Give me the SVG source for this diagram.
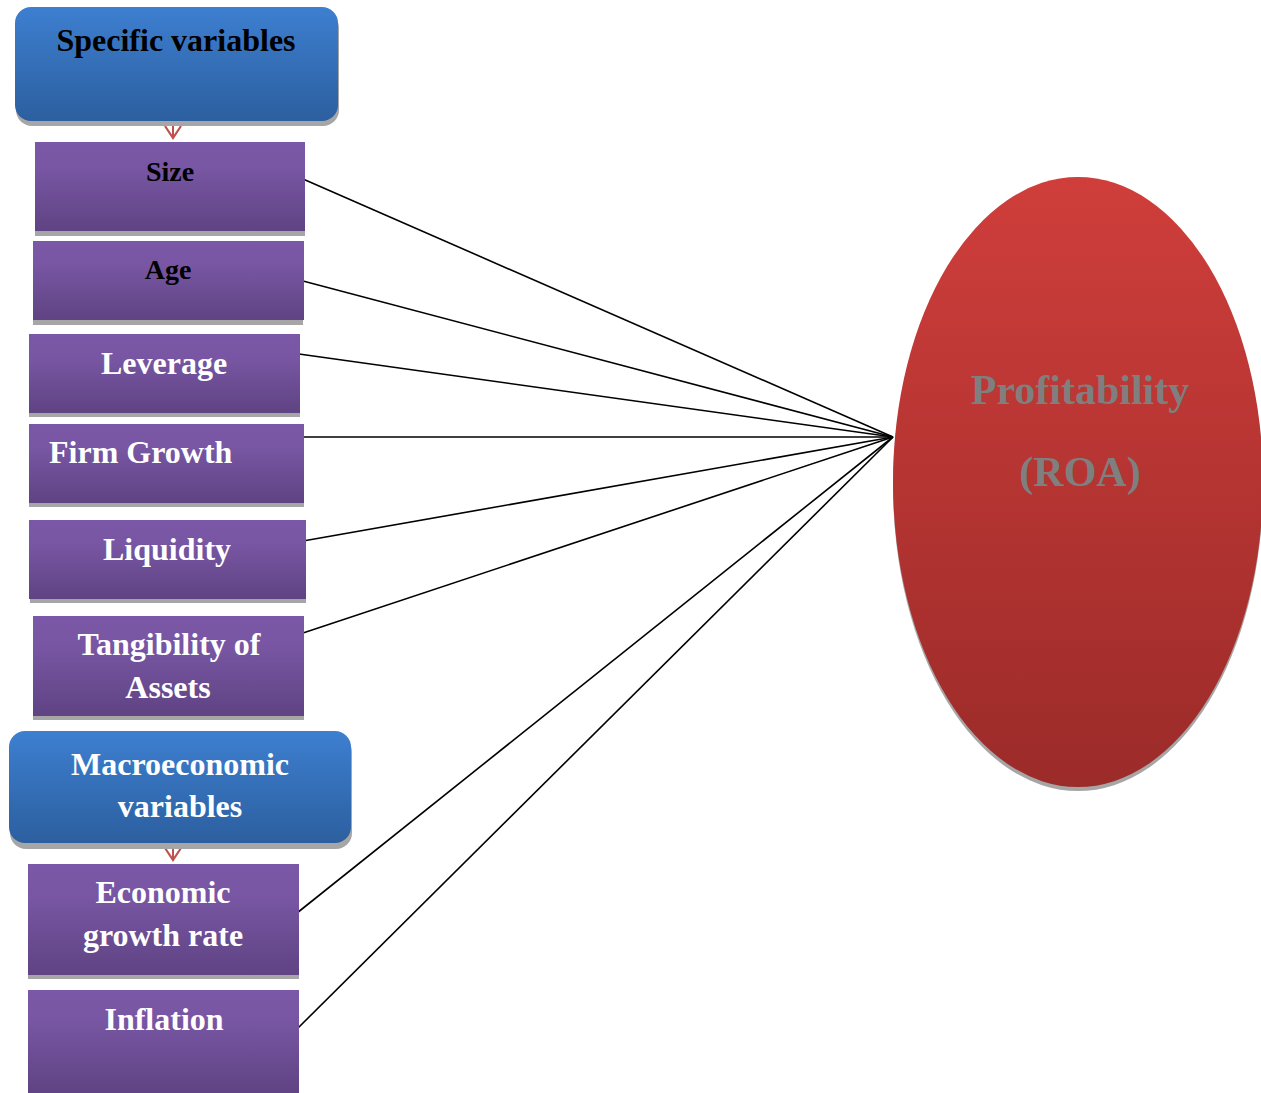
<svg xmlns="http://www.w3.org/2000/svg" width="1261" height="1093" viewBox="0 0 1261 1093">
<defs>
<linearGradient id="gBlue" x1="0" y1="0" x2="0" y2="1">
<stop offset="0" stop-color="#3d7fd0"/><stop offset="1" stop-color="#2c5f9f"/>
</linearGradient>
<linearGradient id="gPurple" x1="0" y1="0" x2="0" y2="1">
<stop offset="0" stop-color="#7b58a7"/><stop offset="0.3" stop-color="#7856a3"/><stop offset="1" stop-color="#5f4383"/>
</linearGradient>
<linearGradient id="gRed" x1="0" y1="0" x2="0" y2="1">
<stop offset="0" stop-color="#cf3e3b"/><stop offset="1" stop-color="#9b2b29"/>
</linearGradient>
<marker id="chev" viewBox="0 0 16 20" refX="14" refY="10" markerWidth="16" markerHeight="20" markerUnits="userSpaceOnUse" orient="auto">
<path d="M2,2 L14,10 L2,18" fill="none" stroke="#c0504d" stroke-width="2.2"/>
</marker>
<style>
.shadow{fill:#a6a6a6}
.blue{fill:url(#gBlue)}
.purple{fill:url(#gPurple)}
.t{font-family:"Liberation Serif","Times New Roman",serif;font-weight:bold;text-anchor:middle}
.w{fill:#ffffff;font-size:32px}
.k{fill:#000000}
.conn{stroke:#000;stroke-width:1.6;fill:none}
.red{stroke:#c0504d;stroke-width:2;fill:none}
</style>
</defs>

<g id="connectors">
<line class="conn" x1="303" y1="179" x2="893" y2="437"/>
<line class="conn" x1="303" y1="281" x2="893" y2="437"/>
<line class="conn" x1="299" y1="354" x2="893" y2="437"/>
<line class="conn" x1="299" y1="437" x2="893" y2="437"/>
<line class="conn" x1="303" y1="541" x2="893" y2="437"/>
<line class="conn" x1="303" y1="633" x2="893" y2="437"/>
<line class="conn" x1="297" y1="913" x2="893" y2="437"/>
<line class="conn" x1="297" y1="1029" x2="893" y2="437"/>
<line class="red" x1="173" y1="121" x2="173" y2="138" marker-end="url(#chev)"/>
<line class="red" x1="173" y1="844" x2="173" y2="860" marker-end="url(#chev)"/>
</g>

<g id="specific">
<rect class="shadow" x="16" y="12" width="323" height="114" rx="16"/>
<rect class="blue" x="15" y="7" width="323" height="114" rx="16"/>
<text class="t k" x="176" y="51" font-size="32">Specific variables</text>
</g>

<g id="size">
<rect class="shadow" x="35" y="146" width="270" height="90"/>
<rect class="purple" x="35" y="142" width="270" height="89"/>
<text class="t k" x="170" y="181" font-size="28">Size</text>
</g>

<g id="age">
<rect class="shadow" x="33" y="245" width="270" height="80"/>
<rect class="purple" x="33" y="241" width="271" height="79"/>
<text class="t k" x="168" y="279" font-size="28">Age</text>
</g>

<g id="leverage">
<rect class="shadow" x="29" y="338" width="271" height="79"/>
<rect class="purple" x="29" y="334" width="271" height="79"/>
<text class="t w" x="164" y="374">Leverage</text>
</g>

<g id="firmgrowth">
<rect class="shadow" x="29" y="428" width="275" height="79"/>
<rect class="purple" x="29" y="424" width="275" height="79"/>
<text class="t w" x="49" y="463" style="text-anchor:start">Firm Growth</text>
</g>

<g id="liquidity">
<rect class="shadow" x="30" y="524" width="276" height="79"/>
<rect class="purple" x="29" y="520" width="277" height="79"/>
<text class="t w" x="167" y="560">Liquidity</text>
</g>

<g id="tangibility">
<rect class="shadow" x="33" y="620" width="271" height="100"/>
<rect class="purple" x="33" y="616" width="271" height="100"/>
<text class="t w" x="169" y="655">Tangibility of</text>
<text class="t w" x="168" y="698">Assets</text>
</g>

<g id="macro">
<rect class="shadow" x="10" y="736" width="342" height="113" rx="16"/>
<rect class="blue" x="9" y="731" width="342" height="112" rx="16"/>
<text class="t w" x="180" y="775">Macroeconomic</text>
<text class="t w" x="180" y="817">variables</text>
</g>

<g id="economic">
<rect class="shadow" x="28" y="868" width="271" height="111"/>
<rect class="purple" x="28" y="864" width="271" height="111"/>
<text class="t w" x="163" y="903">Economic</text>
<text class="t w" x="163" y="946">growth rate</text>
</g>

<g id="inflation">
<rect class="purple" x="28" y="990" width="271" height="103"/>
<text class="t w" x="164" y="1030">Inflation</text>
</g>

<g id="profitability">
<ellipse cx="1078" cy="486" rx="185" ry="305" fill="#a6a6a6"/>
<ellipse cx="1078" cy="482" rx="185" ry="305" fill="url(#gRed)"/>
<text class="t" x="1080" y="404" font-size="42" fill="#7f7f7f">Profitability</text>
<text class="t" x="1080" y="486" font-size="42" fill="#7f7f7f">(ROA)</text>
</g>
</svg>
